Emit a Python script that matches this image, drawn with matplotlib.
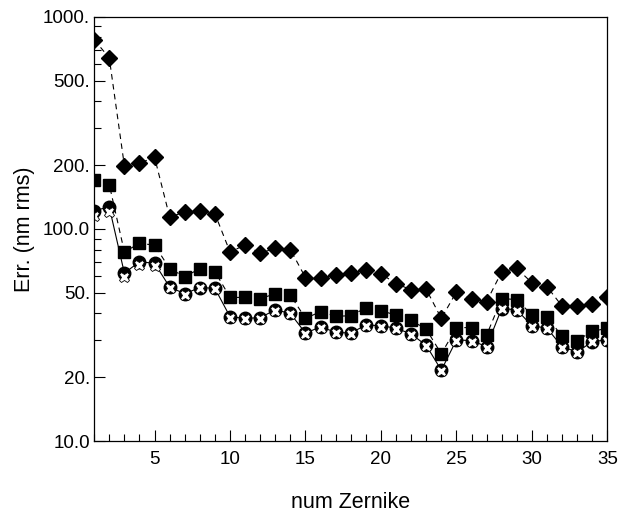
import numpy as np
import matplotlib
matplotlib.use('Agg')
import matplotlib.pyplot as plt
from matplotlib.ticker import FixedLocator, NullFormatter

plt.rcParams['font.family'] = ['Liberation Sans', 'DejaVu Sans']

# Data
n = np.arange(1, 36)
diamonds = [780, 640, 199, 204, 218, 114, 120, 121, 118, 78,
            84, 77, 81, 80, 59, 58.5, 60.8, 62.2, 64, 61.5,
            55.3, 51.7, 52, 37.9, 50.5, 46.7, 45.5, 62.8, 65.2, 55.8,
            53.5, 43.3, 43.3, 44.5, 48]
squares = [171, 162, 78, 85.5, 84, 65, 59.6, 65, 63, 47.6,
           47.6, 47, 49.5, 48.8, 37.9, 40.8, 38.8, 39, 42.5, 41.2,
           39.3, 37.1, 33.7, 25.8, 34.3, 34.3, 31.6, 47, 46.5, 39.3,
           38.6, 31.2, 29.8, 33, 34]
circles = [122, 127, 62, 70, 69, 53.3, 49.5, 53, 52.5, 38.6,
           37.9, 38.2, 41.6, 40, 32.3, 34.6, 32.6, 32.3, 35.3, 35,
           34.1, 32, 28.3, 21.6, 30, 29.8, 27.9, 42.2, 41.6, 35,
           34.1, 27.9, 26.3, 29.5, 30]
crosses = [115, 120, 59.6, 68, 67, 52.5, 49, 52.5, 52, 38,
           37.5, 37.8, 41, 39.6, 32, 34.2, 32.3, 32, 35, 34.7,
           33.8, 31.7, 28, 21.4, 29.7, 29.5, 27.6, 41.8, 41.2, 34.7,
           33.8, 27.6, 26, 29.2, 29.7]

ytick_vals = [10, 20, 50, 100, 200, 500, 1000]
ytick_labels = ['10.0', '20.', '50.', '100.0', '200.', '500.', '1000.']

fig = plt.figure(figsize=(6.32, 5.24), dpi=100)
ax = fig.add_axes([0.149, 0.158, 0.812, 0.810])

ax.plot(n, diamonds, 'D', ls=(0, (5, 4)), color='black', lw=0.8, ms=8.5)
ax.plot(n, squares, 's', ls=(0, (5, 4)), color='black', lw=0.8, ms=8)
ax.plot(n, circles, 'o', ls='-', color='black', lw=0.8, ms=9)
ax.plot(n, crosses, 'X', ls='none', mfc='white', mec='black', mew=0.6, ms=7.5)

ax.set_yscale('log')
ax.set_xlim(1, 35)
ax.set_ylim(10, 1000)

ax.yaxis.set_major_locator(FixedLocator(ytick_vals))
ax.set_yticklabels(ytick_labels)
minor = [d * m for d in (10, 100) for m in range(1, 10)]
minor = [v for v in minor if v not in ytick_vals]
ax.yaxis.set_minor_locator(FixedLocator(minor))
ax.yaxis.set_minor_formatter(NullFormatter())

ax.set_xticks([5, 10, 15, 20, 25, 30, 35])
ax.set_xticks(range(1, 36), minor=True)

ax.tick_params(which='both', direction='in', top=False, right=False,
               labelsize=13.5, width=0.8)
ax.tick_params(which='major', length=8)
ax.tick_params(which='minor', length=5)
ax.tick_params(axis='x', pad=7)
ax.tick_params(axis='y', pad=3)
for s in ax.spines.values():
    s.set_linewidth(0.9)

ax.set_xlabel('num Zernike', fontsize=15.5, labelpad=17)
ax.set_ylabel('Err. (nm rms)', fontsize=15.5, labelpad=6)

fig.savefig('out.png', dpi=100)
